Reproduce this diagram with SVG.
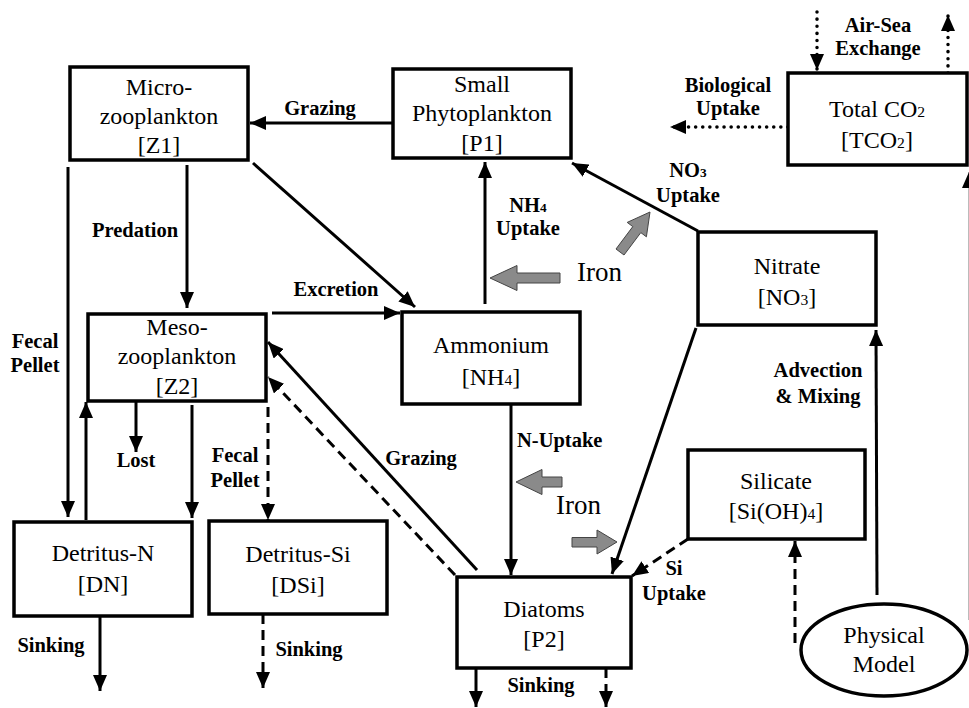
<svg xmlns="http://www.w3.org/2000/svg" width="969" height="708" viewBox="0 0 969 708">
<style>
.box{fill:#fff;stroke:#000;stroke-width:3.5}
text{font-family:"Liberation Serif","Times New Roman",Times,"Nimbus Roman","DejaVu Serif",serif;fill:#000}
.nt{font-size:24px;text-anchor:middle}
.lb{font-size:20.5px;font-weight:bold;text-anchor:middle}
.iron{font-size:27px}
.sub{font-size:65%}
.ln{fill:none;stroke:#000;stroke-width:3;marker-end:url(#ah)}
.dash{stroke-dasharray:10 6}
.dot{stroke-dasharray:0.1 7;stroke-linecap:round;stroke-width:3.5}
.fe{fill:#8a8a8a;stroke:#444;stroke-width:1}
</style>
<defs>
<marker id="ah" markerUnits="userSpaceOnUse" markerWidth="17" markerHeight="14" refX="16" refY="7" orient="auto">
<path d="M0,0 L16,7 L0,14 z" fill="#000"/>
</marker>
</defs>
<rect width="969" height="708" fill="#fff"/>

<g id="connectors">
<line class="ln" x1="393" y1="123" x2="250" y2="123"/>
<line class="ln" x1="253" y1="163" x2="415" y2="307"/>
<line class="ln" x1="187" y1="165" x2="187" y2="308"/>
<line class="ln" x1="68" y1="167" x2="68" y2="517"/>
<line class="ln" x1="272" y1="313" x2="400" y2="313"/>
<line class="ln" x1="485" y1="304" x2="485" y2="162"/>
<line class="ln" x1="698" y1="231" x2="572" y2="163"/>
<line class="ln" x1="696" y1="328" x2="612" y2="574"/>
<line class="ln" x1="511" y1="404" x2="511" y2="575"/>
<line class="ln dash" x1="688" y1="539" x2="632" y2="576"/>
<line class="ln dash" x1="795" y1="643" x2="795" y2="541"/>
<line class="ln" x1="877" y1="595" x2="876" y2="330"/>
<line class="ln" x1="477" y1="570" x2="268" y2="342"/>
<line class="ln dash" x1="455" y1="575" x2="268" y2="377"/>
<line class="ln" x1="86" y1="520" x2="86" y2="402"/>
<line class="ln" x1="136" y1="401" x2="136" y2="452"/>
<line class="ln" x1="192" y1="405" x2="192" y2="518"/>
<line class="ln dash" x1="268" y1="407" x2="268" y2="520"/>
<line class="ln" x1="100" y1="616" x2="100" y2="691"/>
<line class="ln dash" x1="263" y1="614" x2="263" y2="688"/>
<line class="ln" x1="476" y1="668" x2="476" y2="707"/>
<line class="ln dash" x1="606" y1="668" x2="606" y2="707"/>
<line class="ln dot" x1="817" y1="12" x2="817" y2="70"/>
<line class="ln dot" x1="948" y1="73" x2="948" y2="15"/>
<line class="ln dot" x1="788" y1="127" x2="670" y2="127"/>
<line class="ln" x1="969" y1="620" x2="969" y2="172" style="stroke:#bbb;stroke-width:2"/>
<polygon class="fe" points="490,278 517,265.5 517,273 560,273 560,283 517,283 517,290.5"/>
<polygon class="fe" points="516,482 542,469.5 542,477 562,477 562,487 542,487 542,494.5"/>
<polygon class="fe" points="617,542 597,530 597,537.5 572,537.5 572,547 597,547 597,554"/>
<polygon class="fe" points="650,212 646.4,236.8 640.8,232.6 624,255 616,249 632.8,226.6 627.2,222.4"/>
</g>

<g id="labels">
<text class="lb" x="320" y="115">Grazing</text>
<text class="lb" x="135" y="237">Predation</text>
<text class="lb" x="336" y="296">Excretion</text>
<text class="lb" x="528" y="212">NH<tspan class="sub">4</tspan></text>
<text class="lb" x="528" y="235">Uptake</text>
<text class="lb" x="688" y="177">NO<tspan class="sub">3</tspan></text>
<text class="lb" x="688" y="202">Uptake</text>
<text class="lb" x="728" y="92">Biological</text>
<text class="lb" x="728" y="115">Uptake</text>
<text class="lb" x="878" y="32">Air-Sea</text>
<text class="lb" x="878" y="55">Exchange</text>
<text class="lb" x="35" y="348">Fecal</text>
<text class="lb" x="35" y="372">Pellet</text>
<text class="lb" x="136" y="467">Lost</text>
<text class="lb" x="235" y="462">Fecal</text>
<text class="lb" x="235" y="487">Pellet</text>
<text class="lb" x="421" y="465">Grazing</text>
<text class="lb" x="517" y="447" style="text-anchor:start">N-Uptake</text>
<text class="lb" x="818" y="377">Advection</text>
<text class="lb" x="818" y="403">&amp; Mixing</text>
<text class="lb" x="674" y="575">Si</text>
<text class="lb" x="674" y="600">Uptake</text>
<text class="lb" x="51" y="652">Sinking</text>
<text class="lb" x="309" y="656">Sinking</text>
<text class="lb" x="541" y="692">Sinking</text>
<text class="iron" x="577" y="281">Iron</text>
<text class="iron" x="556" y="514">Iron</text>
</g>

<g id="micro">
<rect class="box" x="70" y="67" width="178" height="93"/>
<text class="nt" x="159" y="95">Micro-</text>
<text class="nt" x="159" y="124">zooplankton</text>
<text class="nt" x="159" y="153">[Z1]</text>
</g>
<g id="smallphyto">
<rect class="box" x="393" y="69" width="178" height="89"/>
<text class="nt" x="482" y="92">Small</text>
<text class="nt" x="482" y="121">Phytoplankton</text>
<text class="nt" x="482" y="151">[P1]</text>
</g>
<g id="tco2">
<rect class="box" x="788" y="73" width="179" height="92"/>
<text class="nt" x="877" y="117">Total CO<tspan class="sub">2</tspan></text>
<text class="nt" x="877" y="148">[TCO<tspan class="sub">2</tspan>]</text>
</g>
<g id="nitrate">
<rect class="box" x="698" y="232" width="178" height="93"/>
<text class="nt" x="787" y="274">Nitrate</text>
<text class="nt" x="787" y="305">[NO<tspan class="sub">3</tspan>]</text>
</g>
<g id="meso">
<rect class="box" x="88" y="314" width="178" height="87"/>
<text class="nt" x="177" y="335">Meso-</text>
<text class="nt" x="177" y="364">zooplankton</text>
<text class="nt" x="177" y="394">[Z2]</text>
</g>
<g id="ammonium">
<rect class="box" x="402" y="312" width="178" height="92"/>
<text class="nt" x="491" y="353">Ammonium</text>
<text class="nt" x="491" y="385">[NH<tspan class="sub">4</tspan>]</text>
</g>
<g id="silicate">
<rect class="box" x="688" y="450" width="177" height="89"/>
<text class="nt" x="776" y="489">Silicate</text>
<text class="nt" x="776" y="519">[Si(OH)<tspan class="sub">4</tspan>]</text>
</g>
<g id="detritusN">
<rect class="box" x="14" y="522" width="178" height="94"/>
<text class="nt" x="103" y="561">Detritus-N</text>
<text class="nt" x="103" y="592">[DN]</text>
</g>
<g id="detritusSi">
<rect class="box" x="209" y="521" width="178" height="93"/>
<text class="nt" x="298" y="562">Detritus-Si</text>
<text class="nt" x="298" y="593">[DSi]</text>
</g>
<g id="diatoms">
<rect class="box" x="457" y="577" width="174" height="91"/>
<text class="nt" x="544" y="617">Diatoms</text>
<text class="nt" x="544" y="647">[P2]</text>
</g>
<g id="physical">
<ellipse cx="884" cy="650" rx="83" ry="46" fill="#fff" stroke="#000" stroke-width="3.5"/>
<text class="nt" x="884" y="643">Physical</text>
<text class="nt" x="884" y="672">Model</text>
</g>
</svg>
